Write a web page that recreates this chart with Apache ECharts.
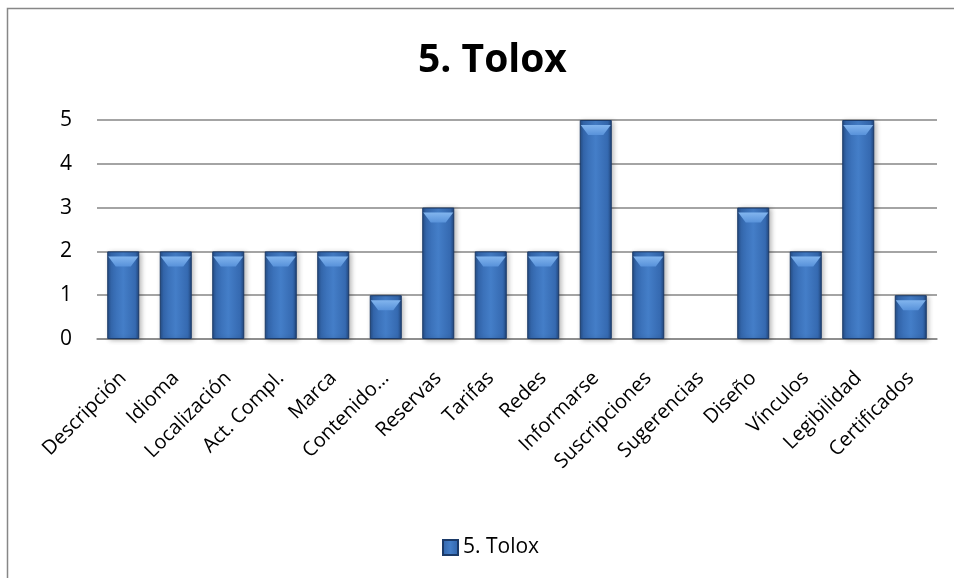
<!DOCTYPE html>
<html>
<head>
<meta charset="utf-8">
<script src="https://cdn.jsdelivr.net/npm/echarts@6/dist/echarts.min.js"></script>
<style>
  html, body { margin: 0; padding: 0; background: #fff; }
  #chart { width: 954px; height: 578px; }
</style>
</head>
<body>
<div id="chart"></div>
<script>
var categories = ['Descripción', 'Idioma', 'Localización', 'Act. Compl.', 'Marca', 'Contenido…',
  'Reservas', 'Tarifas', 'Redes', 'Informarse', 'Suscripciones', 'Sugerencias', 'Diseño',
  'Vínculos', 'Legibilidad', 'Certificados'];
var values = [2, 2, 2, 2, 2, 1, 3, 2, 2, 5, 2, 0, 3, 2, 5, 1];
var seriesName = '5. Tolox';
var yTicks = [0, 1, 2, 3, 4, 5];

var font = '"Open Sans", "Noto Sans", sans-serif';

var barFill = new echarts.graphic.LinearGradient(0, 0, 1, 0, [
  { offset: 0, color: '#244c84' },
  { offset: 0.12, color: '#3569b0' },
  { offset: 0.5, color: '#447ec8' },
  { offset: 0.88, color: '#3569b0' },
  { offset: 1, color: '#20457a' }
]);
var capFill = new echarts.graphic.LinearGradient(0, 0, 0, 1, [
  { offset: 0, color: '#82b5ee' },
  { offset: 1, color: '#5892da' }
]);

// bars of height 0 are not drawn
var barData = values.map(function (v) {
  return v === 0 ? '-' : v;
});

var chart = echarts.init(document.getElementById('chart'));
chart.setOption({
  backgroundColor: '#fff',
  animation: false,
  graphic: [{
    type: 'rect',
    shape: { x: 7.5, y: 8.5, width: 1000, height: 600 },
    style: { fill: 'none', stroke: '#878787', lineWidth: 1.5 },
    z: -1
  }],
  title: {
    text: seriesName,
    left: 413,
    top: 36,
    textStyle: { fontFamily: font, fontSize: 39, fontWeight: 'bold', color: '#000' }
  },
  legend: {
    top: 532,
    left: 437,
    itemWidth: 15,
    itemHeight: 15,
    itemGap: 8,
    textStyle: { fontFamily: font, fontSize: 21, color: '#000' },
    data: [{ name: seriesName, icon: 'rect' }]
  },
  grid: { left: 97, right: 17, top: 120, bottom: 239 },
  xAxis: {
    type: 'category',
    data: categories,
    axisLine: { lineStyle: { color: '#868686', width: 1.5 } },
    axisTick: { show: false },
    axisLabel: {
      interval: 0,
      rotate: 45,
      margin: 36,
      fontFamily: font,
      fontSize: 20,
      color: '#000'
    }
  },
  yAxis: {
    type: 'value',
    min: 0,
    max: 5,
    interval: 1,
    axisLine: { show: false },
    axisTick: { show: false },
    splitLine: { lineStyle: { color: '#868686', width: 1.5 } },
    axisLabel: {
      margin: 25,
      fontFamily: font,
      fontSize: 21,
      color: '#000',
      formatter: function (v) { return yTicks.indexOf(v) >= 0 ? String(v) : ''; }
    }
  },
  series: [{
    name: seriesName,
    type: 'bar',
    data: barData,
    barCategoryGap: '39%',
    itemStyle: {
      color: barFill,
      borderColor: '#1b3a68',
      borderWidth: 1,
      shadowColor: 'rgba(0,0,0,0.3)',
      shadowBlur: 5,
      shadowOffsetX: 2,
      shadowOffsetY: 1
    }
  }, {
    // light bevel on top of each bar
    name: seriesName + ' cap',
    type: 'pictorialBar',
    data: barData,
    barCategoryGap: '39%',
    barGap: '-100%',
    symbol: 'path://M0,0 L32,0 L24,10 L8,10 Z',
    symbolSize: [30, 10],
    symbolPosition: 'end',
    symbolOffset: [0, '50%'],
    itemStyle: { color: capFill },
    z: 3,
    silent: true
  }]
});
</script>
</body>
</html>
